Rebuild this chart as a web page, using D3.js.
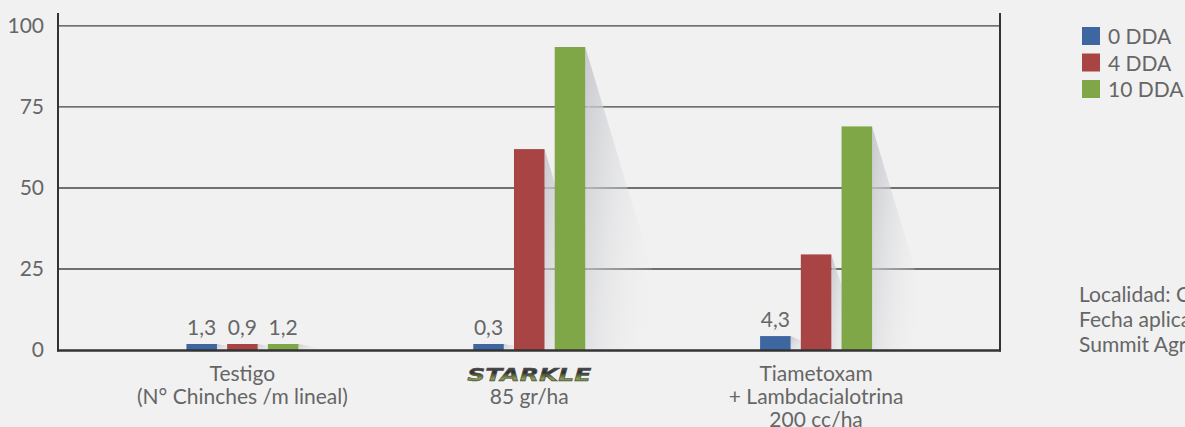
<!DOCTYPE html>
<html><head><meta charset="utf-8">
<script src="https://cdn.jsdelivr.net/npm/d3@7"></script>
<style>
html,body{margin:0;padding:0;background:#f1f1f1;overflow:hidden;}
svg{display:block;font-family:Lato,"Open Sans",sans-serif;}
</style></head>
<body><svg id="c" width="1185" height="427"></svg>
<script>
const categories = ["Testigo", "STARKLE", "Tiametoxam"];
const categoryLines = [
  ["Testigo", "(N° Chinches /m lineal)"],
  ["STARKLE", "85 gr/ha"],
  ["Tiametoxam", "+ Lambdacialotrina", "200 cc/ha"]
];
const seriesNames = ["0 DDA", "4 DDA", "10 DDA"];
const dda0 = [1.3, 0.3, 4.3];
const dda4 = [0.9, 62, 29.5];
const dda10 = [1.2, 93.5, 69];
const seriesColors = ["#3e67a1", "#a94444", "#7fa647"];
const yTicks = [0, 25, 50, 75, 100];
const notes = ["Localidad: Chacabuco", "Fecha aplicación: 2019", "Summit Agro Argentina"];

const seriesValues = [dda0, dda4, dda10];
const fmt = v => String(v).replace(".", ",");
const FS = 21;

const svg = d3.select("#c");
const defs = svg.append("defs");
const sg = defs.append("linearGradient").attr("id","shadowGrad").attr("x1","0").attr("x2","1").attr("y1","0").attr("y2","0.4");
sg.append("stop").attr("offset","0").attr("stop-color","#c4c5ca").attr("stop-opacity",0.9);
sg.append("stop").attr("offset","0.45").attr("stop-color","#d8d9dc").attr("stop-opacity",0.45);
sg.append("stop").attr("offset","1").attr("stop-color","#f1f1f1").attr("stop-opacity",0);
const lg = defs.append("linearGradient").attr("id","logoGrad").attr("x1","0").attr("x2","0").attr("y1","0").attr("y2","1");
lg.append("stop").attr("offset","0").attr("stop-color","#6a6a6e");
lg.append("stop").attr("offset","0.4").attr("stop-color","#2e2e30");
lg.append("stop").attr("offset","0.7").attr("stop-color","#8aa04a");
lg.append("stop").attr("offset","1").attr("stop-color","#3a3a3a");

const plotL = 58, plotR = 1000, yBase = 350, yTop = 13;
const y = d3.scaleLinear().domain([0, 104]).range([yBase, yTop]);
const x0 = d3.scaleBand().domain(categories).range([99, 959.5]).paddingInner(0).paddingOuter(0);
const x1 = d3.scaleBand().domain(seriesNames).range([x0.bandwidth()/2 - 56, x0.bandwidth()/2 + 56]).paddingInner(0.25).paddingOuter(0);

// gridlines
const g = svg.append("g");
g.selectAll("line.grid").data(yTicks.filter(t => t > 0)).join("line")
  .attr("x1", plotL).attr("x2", plotR)
  .attr("y1", d => y(d)).attr("y2", d => y(d))
  .attr("stroke", "#444").attr("stroke-width", 1.3);

// tick labels
const yAxis = d3.axisLeft(y).tickValues(yTicks).tickSize(0).tickPadding(14);
const ya = svg.append("g").attr("transform", `translate(${plotL},0)`).call(yAxis);
ya.select(".domain").remove();
ya.selectAll("text").attr("font-size", FS).attr("fill", "#666").attr("font-family", "Lato");

// bars data
const bars = [];
categories.forEach((c, ci) => {
  seriesNames.forEach((s, si) => {
    bars.push({c, s, si, v: seriesValues[si][ci]});
  });
});
const minH = 6;
const bx = d => x0(d.c) + x1(d.s);
const bTop = d => Math.min(y(d.v), yBase - minH);

// shadows
svg.append("g").selectAll("polygon").data(bars).join("polygon")
  .attr("points", d => {
    const xr = bx(d) + x1.bandwidth();
    const t = bTop(d), h = yBase - t;
    const w = Math.max(h * 0.3, 32);
    return [[xr, t], [xr + w, yBase], [xr, yBase]].map(p => p.join(",")).join(" ");
  })
  .attr("fill", "url(#shadowGrad)");

svg.append("g").selectAll("rect").data(bars).join("rect")
  .attr("x", bx).attr("width", x1.bandwidth())
  .attr("y", bTop).attr("height", d => yBase - bTop(d))
  .attr("fill", d => seriesColors[d.si]);

// data labels for small values
svg.append("g").selectAll("text").data(bars.filter(d => d.v < 10)).join("text")
  .attr("x", d => bx(d) + x1.bandwidth()/2)
  .attr("y", d => bTop(d) - 9)
  .attr("text-anchor", "middle").attr("font-size", FS).attr("fill", "#666")
  .text(d => fmt(d.v));

// axes lines
svg.append("line").attr("x1", plotL).attr("x2", plotL).attr("y1", yTop).attr("y2", yBase + 1.5).attr("stroke", "#333").attr("stroke-width", 2);
svg.append("line").attr("x1", plotR).attr("x2", plotR).attr("y1", yTop).attr("y2", yBase + 1.5).attr("stroke", "#333").attr("stroke-width", 2);
svg.append("line").attr("x1", plotL - 1).attr("x2", plotR + 1).attr("y1", yBase + 0.5).attr("y2", yBase + 0.5).attr("stroke", "#333").attr("stroke-width", 2.5);

// category labels
const cg = svg.append("g");
categoryLines.forEach((lines, ci) => {
  const cx = x0(categories[ci]) + x0.bandwidth()/2;
  lines.forEach((ln, li) => {
    const t = cg.append("text").attr("x", cx).attr("y", 381 + li * 23)
      .attr("text-anchor", "middle").attr("font-size", FS).attr("fill", "#666").text(ln);
    if (ln === "STARKLE") {
      t.attr("y", 381).attr("font-family", "DejaVu Sans").attr("font-weight", "bold")
        .attr("font-style", "italic").attr("font-size", 18)
        .attr("textLength", 124).attr("lengthAdjust", "spacingAndGlyphs")
        .attr("fill", "url(#logoGrad)").attr("stroke", "#444").attr("stroke-width", 0.5);
    }
  });
});

// legend
const leg = svg.append("g").attr("transform", "translate(1082,27)");
seriesNames.forEach((s, i) => {
  leg.append("rect").attr("x", 0).attr("y", i * 26.5).attr("width", 18).attr("height", 18).attr("fill", seriesColors[i]);
  leg.append("text").attr("x", 26).attr("y", i * 26.5 + 17).attr("font-size", FS).attr("fill", "#666").text(s);
});

// notes
notes.forEach((n, i) => {
  svg.append("text").attr("x", 1079).attr("y", 302 + i * 25).attr("font-size", FS).attr("fill", "#666").text(n);
});
</script></body></html>
